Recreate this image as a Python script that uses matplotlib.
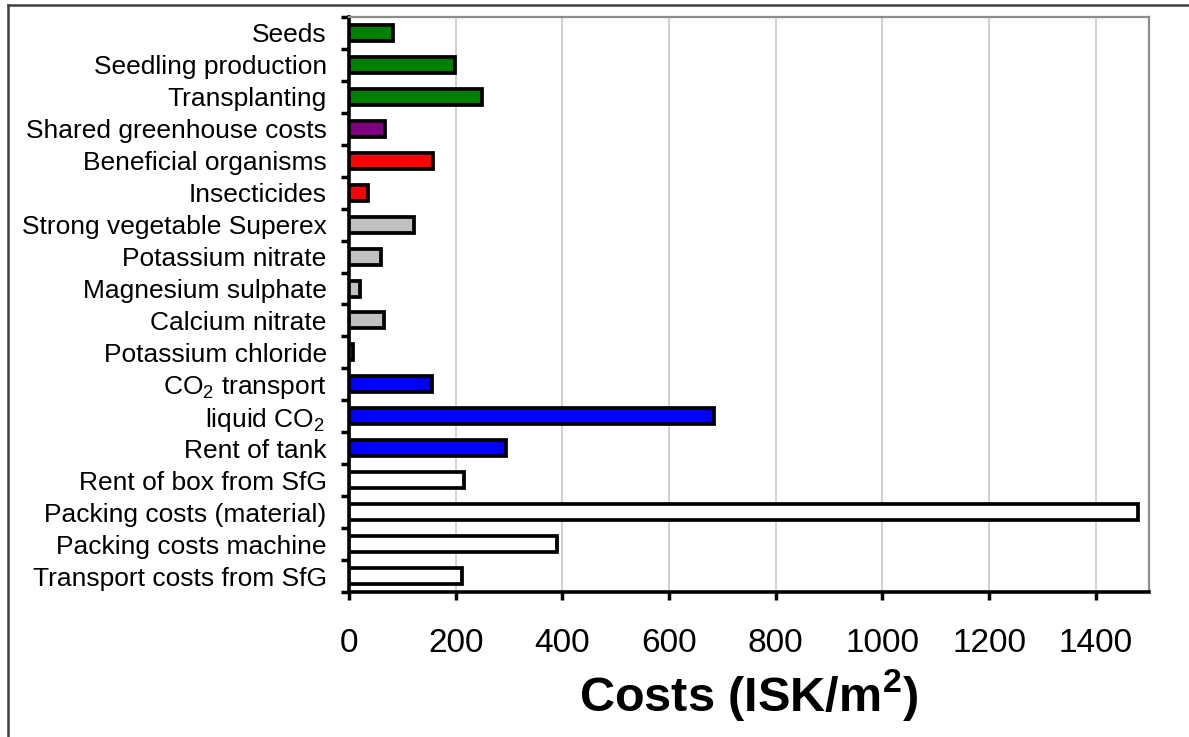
import numpy as np
import matplotlib
matplotlib.use("Agg")
import matplotlib.pyplot as plt
from matplotlib.lines import Line2D

plt.rcParams['font.family'] = ['Liberation Sans', 'DejaVu Sans']
plt.rcParams['mathtext.fontset'] = 'custom'
plt.rcParams['mathtext.rm'] = 'Liberation Sans'
plt.rcParams['mathtext.bf'] = 'Liberation Sans:bold'
plt.rcParams['mathtext.default'] = 'regular'

# data, top to bottom
items = ['Seeds', 'Seedling production', 'Transplanting', 'Shared greenhouse costs',
         'Beneficial organisms', 'Insecticides', 'Strong vegetable Superex',
         'Potassium nitrate', 'Magnesium sulphate', 'Calcium nitrate',
         'Potassium chloride', 'CO$_2$ transport ', 'liquid CO$_2$ ', 'Rent of tank',
         'Rent of box from SfG', 'Packing costs (material)', 'Packing costs machine',
         'Transport costs from SfG']
costs = [83, 199, 249, 68, 158, 35, 122, 60, 20, 65, 7, 155, 685, 295, 216, 1480, 390, 212]
groups = ['plants', 'plants', 'plants', 'greenhouse', 'pest', 'pest', 'fert', 'fert',
          'fert', 'fert', 'fert', 'co2', 'co2', 'co2', 'other', 'other', 'other', 'other']
group_colors = {'plants': '#008000', 'greenhouse': '#800080', 'pest': '#ff0000',
                'fert': '#c0c0c0', 'co2': '#0000ff', 'other': '#ffffff'}

fig = plt.figure(figsize=(11.89, 7.37), dpi=100)
ax = fig.add_axes([0.2935, 0.1967, 0.6729, 0.7803])

y = np.arange(len(items))
ax.barh(y, costs, height=0.5, color=[group_colors[g] for g in groups],
        edgecolor='black', linewidth=2.7, zorder=3)

ax.set_ylim(len(items) - 0.5, -0.5)
ax.set_xlim(0, 1500)

# ticks on category boundaries, labels at centres
ax.set_yticks(np.arange(-0.5, len(items), 1.0))
ax.set_yticklabels([])
ax.set_yticks(y, minor=True)
ax.set_yticklabels(items, minor=True, fontsize=19)
ax.tick_params(axis='y', which='major', length=6, width=2.5, direction='out')
ax.tick_params(axis='y', which='minor', length=0, pad=16)

ax.set_xticks(np.arange(0, 1401, 200))
ax.tick_params(axis='x', length=6, width=2.5, direction='out', labelsize=24, pad=20)

ax.grid(axis='x', color='#c8c8c8', linewidth=1.2, zorder=0)
ax.set_axisbelow(True)

for s in ['left', 'bottom']:
    ax.spines[s].set_linewidth(2.6)
    ax.spines[s].set_color('black')
for s in ['top', 'right']:
    ax.spines[s].set_linewidth(1.6)
    ax.spines[s].set_color('#8c8c8c')

ax.set_xlabel(r'Costs (ISK/m$^{\mathbf{2}}$)', fontsize=35, fontweight='bold', labelpad=6)

# chart frame (only top and left edges visible)
fig.add_artist(Line2D([0.0067, 1.0], [0.9935, 0.9935], color='#404040', linewidth=1.8,
                      transform=fig.transFigure))
fig.add_artist(Line2D([0.0067, 0.0067], [0.0, 0.9935], color='#404040', linewidth=1.8,
                      transform=fig.transFigure))

fig.savefig('out.png', dpi=100)
